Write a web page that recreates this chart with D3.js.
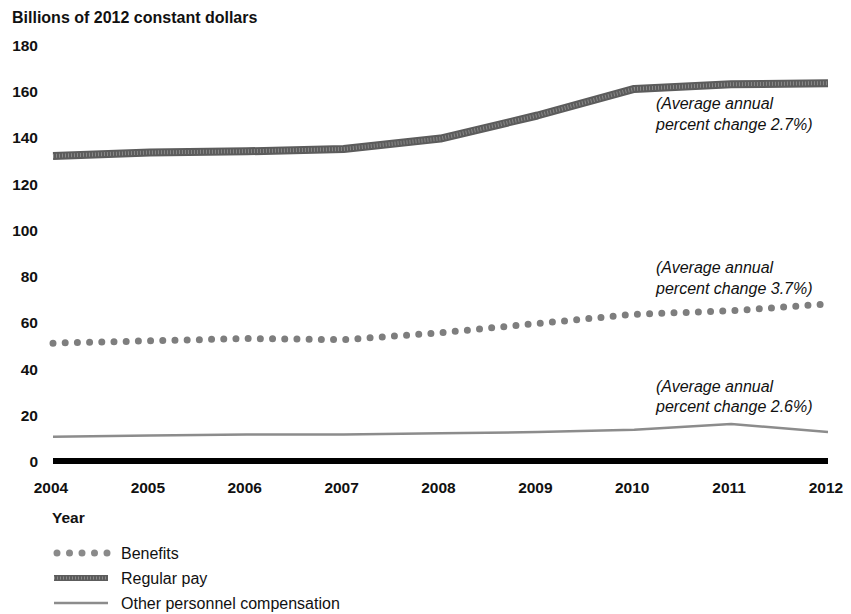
<!DOCTYPE html>
<html>
<head>
<meta charset="utf-8">
<script src="https://cdn.jsdelivr.net/npm/d3@7"></script>
<style>
  body { margin: 0; background: #fff; }
  text { font-family: "Liberation Sans", Arial, sans-serif; fill: #111; }
</style>
</head>
<body>
<div class="line-chart"></div>
<script>
// chart data
const years = [2004, 2005, 2006, 2007, 2008, 2009, 2010, 2011, 2012];
const regularPay = [132, 133.5, 134, 135, 139.5, 149.5, 161, 163, 163.5];
const benefits = [51, 52, 53, 52.5, 55.5, 59.5, 63.5, 65, 68];
const otherComp = [10.5, 11, 11.5, 11.5, 12, 12.5, 13.5, 16, 12.5];
const yTicks = [0, 20, 40, 60, 80, 100, 120, 140, 160, 180];
const notes = [
  {value: 152.3, lines: ['(Average annual', 'percent change 2.7%)']},
  {value: 81.3, lines: ['(Average annual', 'percent change 3.7%)']},
  {value: 29.9, lines: ['(Average annual', 'percent change 2.6%)']}
];
const legendItems = ['Benefits', 'Regular pay', 'Other personnel compensation'];

const width = 851, height = 614;

let svg = d3.select('.line-chart').append('svg')
  .attr('width', width)
  .attr('height', height);

let x = d3.scaleLinear()
  .domain([2004, 2012])
  .range([53, 828]);

let y = d3.scaleLinear()
  .domain([0, 180])
  .range([461, 45]);

// title
svg.append('text')
  .attr('x', 12).attr('y', 23)
  .style('font-size', '16px').style('font-weight', 'bold')
  .text('Billions of 2012 constant dollars');

// y labels
svg.selectAll('.ylab')
  .data(yTicks)
  .enter().append('text')
  .attr('class', 'ylab')
  .attr('x', 38)
  .attr('y', d => y(d) + 6)
  .attr('text-anchor', 'end')
  .style('font-size', '15.5px').style('font-weight', 'bold')
  .text(d => d);

// x labels
svg.selectAll('.xlab')
  .data(years)
  .enter().append('text')
  .attr('class', 'xlab')
  .attr('x', d => x(d) - 2)
  .attr('y', 493)
  .attr('text-anchor', 'middle')
  .style('font-size', '15.5px').style('font-weight', 'bold')
  .text(d => d);

svg.append('text')
  .attr('x', 52).attr('y', 523)
  .style('font-size', '15.5px').style('font-weight', 'bold')
  .text('Year');

// zero baseline
svg.append('line')
  .attr('x1', x(2004)).attr('x2', x(2012))
  .attr('y1', y(0)).attr('y2', y(0))
  .attr('stroke', '#000').attr('stroke-width', 6);

let line = d3.line()
  .x((d, i) => x(years[i]))
  .y(d => y(d))
  .curve(d3.curveLinear);

// regular pay: thick hatched band
svg.append('path')
  .attr('d', line(regularPay))
  .attr('fill', 'none').attr('stroke', '#5c5c5c').attr('stroke-width', 8)
  .attr('stroke-linejoin', 'round');
svg.append('path')
  .attr('d', line(regularPay))
  .attr('fill', 'none').attr('stroke', '#8a8a8a').attr('stroke-width', 4)
  .attr('stroke-dasharray', '1,2');

// benefits: dotted
svg.append('path')
  .attr('d', line(benefits))
  .attr('fill', 'none').attr('stroke', '#7e7e7e').attr('stroke-width', 7)
  .attr('stroke-linecap', 'round').attr('stroke-dasharray', '0,12.2');

// other compensation: thin
svg.append('path')
  .attr('d', line(otherComp))
  .attr('fill', 'none').attr('stroke', '#8c8c8c').attr('stroke-width', 2.5)
  .attr('stroke-linejoin', 'round');

// annotations
notes.forEach(n => {
  let t = svg.append('text')
    .attr('x', 656).attr('y', y(n.value))
    .style('font-size', '16px').style('font-style', 'italic');
  n.lines.forEach((s, i) => {
    t.append('tspan').attr('x', 656).attr('dy', i ? 20.5 : 0).text(s);
  });
});

// legend
let lg = svg.append('g').attr('transform', 'translate(52,553)');
legendItems.forEach((name, i) => {
  let g = lg.append('g').attr('transform', 'translate(0,' + (i * 25) + ')');
  let seg = g.append('line').attr('x1', 2).attr('x2', 56).attr('y1', 0).attr('y2', 0).attr('fill', 'none');
  if (i === 0) {
    seg.attr('stroke', '#8a8a8a').attr('stroke-width', 7)
      .attr('stroke-linecap', 'round').attr('stroke-dasharray', '0,12.5')
      .attr('x1', 5).attr('x2', 56);
  } else if (i === 1) {
    seg.attr('stroke', '#5c5c5c').attr('stroke-width', 6);
    g.append('line').attr('x1', 2).attr('x2', 56).attr('y1', 0).attr('y2', 0)
      .attr('stroke', '#8a8a8a').attr('stroke-width', 3).attr('stroke-dasharray', '1,2');
  } else {
    seg.attr('stroke', '#8c8c8c').attr('stroke-width', 2.5);
  }
  g.append('text')
    .attr('x', 69).attr('y', 5.5)
    .style('font-size', '16px')
    .text(name);
});
</script>
</body>
</html>
